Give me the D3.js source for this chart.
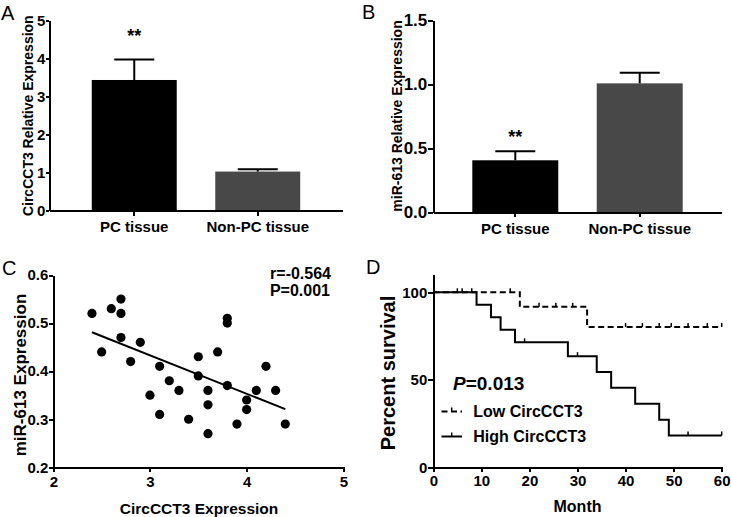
<!DOCTYPE html>
<html><head><meta charset="utf-8">
<script src="https://cdn.jsdelivr.net/npm/d3@7"></script>
<style>
html,body{margin:0;padding:0;background:#fff;}
svg{display:block;font-family:"Liberation Sans",Arial,sans-serif;}
.ax path,.ax line{stroke:#000;stroke-width:2;shape-rendering:crispEdges;}
</style></head>
<body>
<script>
// ---- Data ----
const catsA = ["PC tissue", "Non-PC tissue"];
const meansA = [3.44, 1.03];
const errA = [0.54, 0.06];
const ticksA = [0, 1, 2, 3, 4, 5];

const catsB = ["PC tissue", "Non-PC tissue"];
const meansB = [0.404, 1.005];
const errB = [0.07, 0.083];
const ticksB = [0, 0.5, 1.0, 1.5];

const barColors = ["#000000", "#484848"];

const circX = [2.4,2.5,2.6,2.7,2.7,2.7,2.8,2.9,3.0,3.1,3.1,3.2,3.3,3.4,3.5,3.5,3.6,3.6,3.6,3.7,3.8,3.8,3.8,3.9,4.0,4.0,4.1,4.2,4.3,4.4];
const mirY  = [0.52,0.44,0.53,0.55,0.52,0.47,0.42,0.46,0.35,0.41,0.31,0.38,0.36,0.30,0.43,0.39,0.36,0.33,0.27,0.44,0.51,0.50,0.37,0.29,0.34,0.32,0.36,0.41,0.36,0.29];
const fitX = [2.4, 4.4];
const fitY = [0.481, 0.321];
const ticksCx = [2, 3, 4, 5];
const ticksCy = [0.2, 0.3, 0.4, 0.5, 0.6];

const lowT = [0, 18, 32, 60];
const lowS = [100, 91.7, 80.2, 80.2];
const lowCensor = [16, 22, 25.5, 29, 40, 43.5, 47, 49.5, 53, 57, 60];
const highT = [0, 9, 12, 14, 17, 28, 34, 37, 42, 47, 49, 60];
const highS = [100, 92.9, 85.7, 78.6, 71.4, 63.5, 54.4, 45.4, 36.3, 27.2, 18.2, 18.2];
const highCensor = [5, 6, 8, 19, 30, 53, 60];
const ticksDx = [0, 10, 20, 30, 40, 50, 60];
const ticksDy = [0, 50, 100];

// ---- Drawing ----
const svg = d3.select("body").append("svg").attr("width", 731).attr("height", 517);
const F = "Liberation Sans, Arial, sans-serif";

function styleAxis(g, size) {
  g.attr("class", "ax").attr("font-family", F);
  g.selectAll("text").style("font-size", size + "px").style("font-family", F)
    .style("font-weight", "bold").attr("fill", "#000");
}

function panelLabel(t, x, y) {
  svg.append("text").attr("x", x).attr("y", y).text(t)
    .style("font-size", "20px").style("font-family", F).style("fill", "#000");
}

function barPanel(cats, means, errs, ticks, yDom, yRange, xRange, pIn, pOut, fmt, tickFs, tickSz, yLabel, yLabelX, starY) {
  const y = d3.scaleLinear().domain(yDom).range(yRange);
  const x = d3.scaleBand().domain(cats).range(xRange).paddingInner(pIn).paddingOuter(pOut);
  svg.selectAll(null).data(cats).enter().append("rect")
    .attr("x", d => x(d)).attr("width", x.bandwidth())
    .attr("y", (d, i) => y(means[i])).attr("height", (d, i) => y(0) - y(means[i]))
    .attr("fill", (d, i) => barColors[i]);
  const cap = 40;
  cats.forEach((c, i) => {
    const cx = x(c) + x.bandwidth() / 2;
    svg.append("line").attr("x1", cx).attr("x2", cx).attr("y1", y(means[i])).attr("y2", y(means[i] + errs[i]))
      .attr("stroke", "#000").attr("stroke-width", 2);
    svg.append("line").attr("x1", cx - cap / 2).attr("x2", cx + cap / 2)
      .attr("y1", y(means[i] + errs[i])).attr("y2", y(means[i] + errs[i]))
      .attr("stroke", "#000").attr("stroke-width", 2);
  });
  const gy = svg.append("g").attr("transform", `translate(${xRange[0]},0)`)
    .call(d3.axisLeft(y).tickValues(ticks).tickFormat(fmt).tickSize(tickSz).tickPadding(1).tickSizeOuter(0));
  styleAxis(gy, tickFs);
  const gx = svg.append("g").attr("transform", `translate(0,${yRange[0]})`)
    .call(d3.axisBottom(x).tickSize(5).tickPadding(6).tickSizeOuter(0));
  styleAxis(gx, 15);
  svg.append("text").attr("transform", `translate(${yLabelX},${(yRange[0] + yRange[1]) / 2}) rotate(-90)`)
    .attr("text-anchor", "middle").text(yLabel)
    .style("font-size", "14px").style("font-weight", "bold").style("font-family", F);
  const c0 = x(cats[0]) + x.bandwidth() / 2;
  svg.append("text").attr("x", c0).attr("y", starY).attr("text-anchor", "middle").text("**")
    .style("font-size", "18px").style("font-weight", "bold").style("font-family", F);
}

// Panel A
barPanel(catsA, meansA, errA, ticksA, [0, 5], [210.7, 20.7], [49.3, 342.7], 0.312, 0.344,
  d3.format("d"), 15, 3, "CircCCT3 Relative Expression", 32.5, 42);
panelLabel("A", 1, 20);

// Panel B
barPanel(catsB, meansB, errB, ticksB, [0, 1.5], [212, 20], [433.3, 721.7], 0.309, 0.3135,
  d3.format(".1f"), 17, 5, "miR-613 Relative Expression", 402, 143);
panelLabel("B", 362, 19);

// Panel C
{
  const x = d3.scaleLinear().domain([2, 5]).range([53.3, 343.3]);
  const y = d3.scaleLinear().domain([0.2, 0.6]).range([467.3, 275]);
  svg.selectAll(null).data(circX).enter().append("circle")
    .attr("cx", d => x(d)).attr("cy", (d, i) => y(mirY[i])).attr("r", 4.6).attr("fill", "#000");
  svg.append("line").attr("x1", x(fitX[0])).attr("y1", y(fitY[0])).attr("x2", x(fitX[1])).attr("y2", y(fitY[1]))
    .attr("stroke", "#000").attr("stroke-width", 2);
  const gx = svg.append("g").attr("transform", `translate(0,467.3)`)
    .call(d3.axisBottom(x).tickValues(ticksCx).tickFormat(d3.format("d")).tickSize(5).tickPadding(4).tickSizeOuter(0));
  styleAxis(gx, 15);
  const gy = svg.append("g").attr("transform", `translate(53.3,0)`)
    .call(d3.axisLeft(y).tickValues(ticksCy).tickFormat(d3.format(".1f")).tickSize(4).tickPadding(1).tickSizeOuter(0));
  styleAxis(gy, 15);
  svg.append("text").attr("transform", `translate(26,375) rotate(-90)`).attr("text-anchor", "middle")
    .text("miR-613 Expression").style("font-size", "17px").style("font-weight", "bold").style("font-family", F);
  svg.append("text").attr("x", 199).attr("y", 513.5).attr("text-anchor", "middle")
    .text("CircCCT3 Expression").style("font-size", "15.5px").style("font-weight", "bold").style("font-family", F);
  svg.append("text").attr("x", 331).attr("y", 278.5).attr("text-anchor", "end")
    .text("r=-0.564").style("font-size", "16px").style("font-weight", "bold").style("font-family", F);
  svg.append("text").attr("x", 330).attr("y", 295.7).attr("text-anchor", "end")
    .text("P=0.001").style("font-size", "16px").style("font-weight", "bold").style("font-family", F);
  panelLabel("C", 2, 274.5);
}

// Panel D
{
  const x = d3.scaleLinear().domain([0, 60]).range([433.3, 721.7]);
  const y = d3.scaleLinear().domain([0, 110]).range([467.3, 274.8]);
  const line = d3.line().x(d => x(d[0])).y(d => y(d[1])).curve(d3.curveStepAfter);
  const stepAt = (T, S, t) => { let v = S[0]; for (let i = 0; i < T.length; i++) if (T[i] <= t) v = S[i]; return v; };
  svg.append("path").datum(lowT.map((t, i) => [t, lowS[i]])).attr("d", line)
    .attr("fill", "none").attr("stroke", "#000").attr("stroke-width", 2).attr("stroke-dasharray", "6,3.5");
  svg.append("path").datum(highT.map((t, i) => [t, highS[i]])).attr("d", line)
    .attr("fill", "none").attr("stroke", "#000").attr("stroke-width", 2);
  const tick = (t, s) => svg.append("line").attr("x1", x(t)).attr("x2", x(t)).attr("y1", y(s)).attr("y2", y(s) - 4)
    .attr("stroke", "#000").attr("stroke-width", 1.5);
  lowCensor.forEach(t => tick(t, stepAt(lowT, lowS, t)));
  highCensor.forEach(t => tick(t, stepAt(highT, highS, t)));
  const gx = svg.append("g").attr("transform", `translate(0,467.3)`)
    .call(d3.axisBottom(x).tickValues(ticksDx).tickFormat(d3.format("d")).tickSize(5).tickPadding(3).tickSizeOuter(0));
  styleAxis(gx, 15);
  const gy = svg.append("g").attr("transform", `translate(433.3,0)`)
    .call(d3.axisLeft(y).tickValues(ticksDy).tickFormat(d3.format("d")).tickSize(5).tickPadding(1).tickSizeOuter(0));
  styleAxis(gy, 15);
  svg.append("text").attr("transform", `translate(395,373) rotate(-90)`).attr("text-anchor", "middle")
    .text("Percent survival").style("font-size", "20px").style("font-weight", "bold").style("font-family", F);
  svg.append("text").attr("x", 577.5).attr("y", 511.5).attr("text-anchor", "middle")
    .text("Month").style("font-size", "16px").style("font-weight", "bold").style("font-family", F);
  const pt = svg.append("text").attr("x", 453).attr("y", 390).style("font-size", "19px").style("font-weight", "bold").style("font-family", F);
  pt.append("tspan").style("font-style", "italic").text("P");
  pt.append("tspan").text("=0.013");
  // legend
  const lg = [{lab: "Low CircCCT3", dash: "6,3.5", yy: 411.5}, {lab: "High CircCCT3", dash: null, yy: 436.5}];
  lg.forEach(l => {
    svg.append("line").attr("x1", 441.5).attr("x2", 462).attr("y1", l.yy).attr("y2", l.yy)
      .attr("stroke", "#000").attr("stroke-width", 2).attr("stroke-dasharray", l.dash);
    svg.append("line").attr("x1", 451.7).attr("x2", 451.7).attr("y1", l.yy).attr("y2", l.yy - 4)
      .attr("stroke", "#000").attr("stroke-width", 1.5);
    svg.append("text").attr("x", 473.3).attr("y", l.yy + 5.5).text(l.lab)
      .style("font-size", "16px").style("font-weight", "bold").style("font-family", F);
  });
  panelLabel("D", 366, 273.5);
}
</script>
</body></html>
